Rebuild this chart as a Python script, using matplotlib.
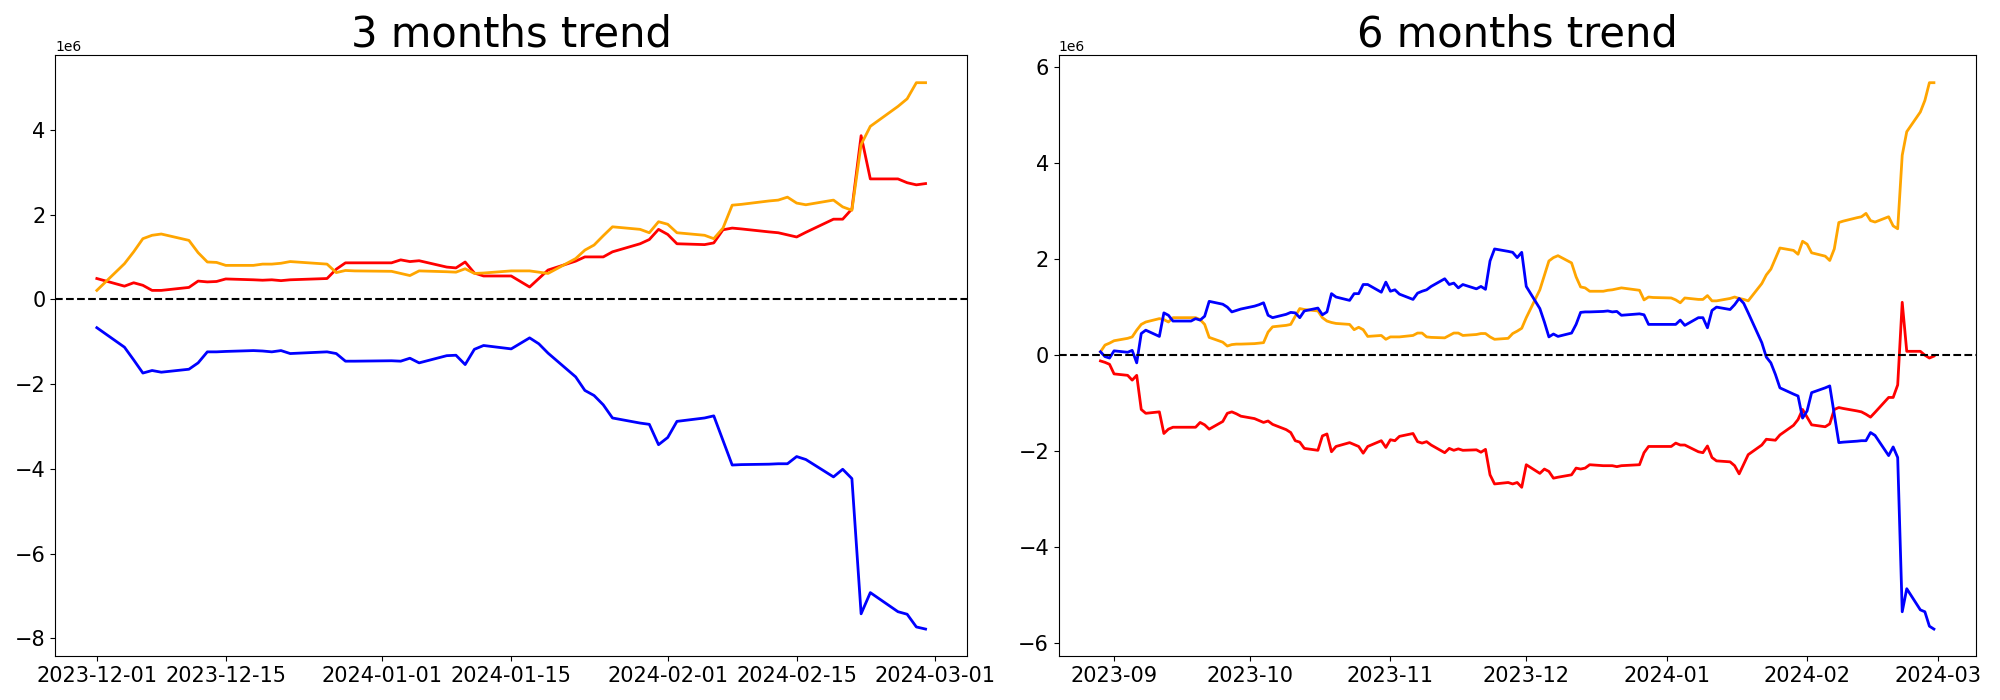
import matplotlib
matplotlib.use('Agg')
import matplotlib.pyplot as plt
import numpy as np
import pandas as pd

holidays = pd.to_datetime(['2023-12-25', '2024-01-01'])

# 3 months: business days 2023-12-01 .. 2024-02-29 (values in millions)
dates_3m = pd.bdate_range('2023-12-01', '2024-02-29').drop(holidays)

red_3m = [0.49, 0.31, 0.39, 0.33, 0.21, 0.21, 0.28, 0.43, 0.41, 0.42,
          0.48, 0.46, 0.45, 0.46, 0.44, 0.46, 0.49, 0.71, 0.86, 0.86,
          0.86, 0.93, 0.89, 0.91, 0.76, 0.74, 0.88, 0.62, 0.55, 0.55,
          0.42, 0.29, 0.49, 0.69, 0.90, 1.00, 1.00, 1.00, 1.12, 1.31,
          1.41, 1.65,
          1.53, 1.31, 1.29, 1.33, 1.64, 1.68, 1.66, 1.59, 1.57, 1.52,
          1.47, 1.58, 1.89, 1.89, 2.13, 3.86, 2.84, 2.84, 2.75, 2.70, 2.73]

orange_3m = [0.21, 0.84, 1.12, 1.43, 1.51, 1.54, 1.39, 1.10, 0.88, 0.87,
             0.80, 0.80, 0.83, 0.83, 0.85, 0.89, 0.83, 0.63, 0.68, 0.67,
             0.66, 0.61, 0.56, 0.67, 0.65, 0.64, 0.72, 0.61, 0.62, 0.67,
             0.67, 0.67, 0.64, 0.61, 0.96, 1.16, 1.28, 1.50, 1.71, 1.65,
             1.57, 1.83,
             1.77, 1.57, 1.51, 1.43, 1.68, 2.22, 2.24, 2.32, 2.34, 2.41,
             2.27, 2.23, 2.34, 2.18, 2.10, 3.65, 4.08, 4.55, 4.73, 5.11, 5.11]

blue_3m = [-0.67, -1.13, -1.43, -1.74, -1.68, -1.72, -1.65, -1.50, -1.24, -1.24,
           -1.23, -1.21, -1.22, -1.24, -1.21, -1.28, -1.24, -1.28, -1.46, -1.46,
           -1.45, -1.46, -1.39, -1.50, -1.33, -1.32, -1.54, -1.18, -1.09, -1.17,
           -1.04, -0.91, -1.05, -1.27, -1.83, -2.15, -2.27, -2.49, -2.80, -2.92,
           -2.95, -3.43,
           -3.26, -2.88, -2.80, -2.75, -3.33, -3.91, -3.90, -3.89, -3.88, -3.88,
           -3.71, -3.78, -4.19, -4.01, -4.23, -7.42, -6.92, -7.37, -7.43, -7.73, -7.78]

# 6 months: business days 2023-08-29 .. 2024-02-29
dates_6m = pd.bdate_range('2023-08-29', '2024-02-29').drop(holidays)

blue_6m = [0.07, -0.03, -0.06, 0.09,
           0.06, 0.10, -0.16, 0.45, 0.52,
           0.39, 0.88, 0.83, 0.71, 0.71,
           0.71, 0.76, 0.73, 0.81, 1.12,
           1.06, 1.00, 0.90, 0.93, 0.96,
           1.02, 1.05, 1.09, 0.83, 0.78,
           0.85, 0.89, 0.88, 0.78, 0.92,
           0.98, 0.84, 0.90, 1.28, 1.21,
           1.14, 1.28, 1.28, 1.47, 1.47,
           1.31, 1.52, 1.33, 1.36, 1.27,
           1.16, 1.29, 1.33, 1.36, 1.43,
           1.59, 1.47, 1.50, 1.40, 1.47,
           1.38, 1.43, 1.37, 1.96, 2.21,
           2.16, 2.14, 2.03, 2.14, 1.43,
           0.97, 0.69, 0.38, 0.44, 0.39,
           0.46, 0.64, 0.89, 0.90, 0.90,
           0.91, 0.92, 0.90, 0.91, 0.83,
           0.86, 0.84, 0.64, 0.64,
           0.64, 0.64, 0.73, 0.62,
           0.78, 0.78, 0.57, 0.93, 1.00,
           0.95, 1.05, 1.18, 1.08, 0.88,
           0.26, -0.04, -0.16, -0.40, -0.68,
           -0.81, -0.85, -1.31, -1.16, -0.78,
           -0.68, -0.64, -1.23, -1.82, -1.81,
           -1.79, -1.78, -1.78, -1.61, -1.67,
           -2.09, -1.91, -2.13, -5.34, -4.86,
           -5.30, -5.34, -5.64, -5.70]

orange_6m = [0.07, 0.21, 0.25, 0.30,
             0.35, 0.38, 0.52, 0.64, 0.69,
             0.76, 0.74, 0.69, 0.78, 0.78,
             0.78, 0.78, 0.74, 0.64, 0.37,
             0.27, 0.19, 0.22, 0.23, 0.23,
             0.24, 0.25, 0.26, 0.48, 0.59,
             0.62, 0.64, 0.81, 0.97, 0.95,
             0.92, 0.78, 0.71, 0.68, 0.66,
             0.64, 0.53, 0.58, 0.53, 0.39,
             0.41, 0.33, 0.38, 0.38, 0.38,
             0.41, 0.46, 0.46, 0.38, 0.37,
             0.36, 0.41, 0.46, 0.46, 0.41,
             0.43, 0.45, 0.45, 0.38, 0.33,
             0.35, 0.45, 0.50, 0.56, 0.78,
             1.36, 1.66, 1.96, 2.03, 2.07,
             1.92, 1.63, 1.42, 1.40, 1.33,
             1.33, 1.35, 1.36, 1.38, 1.40,
             1.35, 1.15, 1.21, 1.20,
             1.19, 1.15, 1.09, 1.19,
             1.16, 1.16, 1.24, 1.13, 1.13,
             1.18, 1.21, 1.18, 1.16, 1.13,
             1.49, 1.67, 1.79, 2.01, 2.23,
             2.18, 2.10, 2.37, 2.31, 2.13,
             2.06, 1.97, 2.21, 2.76, 2.79,
             2.86, 2.88, 2.95, 2.80, 2.77,
             2.88, 2.69, 2.63, 4.16, 4.65,
             5.06, 5.30, 5.67, 5.67]

red_6m = [-0.12, -0.15, -0.19, -0.39,
          -0.42, -0.52, -0.42, -1.13, -1.21,
          -1.18, -1.63, -1.54, -1.50, -1.50,
          -1.50, -1.50, -1.40, -1.45, -1.54,
          -1.38, -1.21, -1.18, -1.22, -1.27,
          -1.32, -1.36, -1.40, -1.37, -1.44,
          -1.55, -1.61, -1.78, -1.81, -1.94,
          -1.98, -1.68, -1.64, -2.01, -1.90,
          -1.82, -1.86, -1.90, -2.04, -1.90,
          -1.78, -1.92, -1.76, -1.78, -1.69,
          -1.63, -1.80, -1.83, -1.80, -1.87,
          -2.03, -1.94, -1.98, -1.95, -1.98,
          -1.97, -2.02, -1.96, -2.49, -2.68,
          -2.65, -2.68, -2.65, -2.75, -2.28,
          -2.46, -2.37, -2.42, -2.56, -2.54,
          -2.49, -2.35, -2.37, -2.35, -2.28,
          -2.30, -2.30, -2.30, -2.32, -2.30,
          -2.28, -2.03, -1.90, -1.90,
          -1.90, -1.83, -1.87, -1.87,
          -2.01, -2.03, -1.89, -2.13, -2.20,
          -2.22, -2.30, -2.47, -2.27, -2.07,
          -1.87, -1.75, -1.76, -1.77, -1.66,
          -1.46, -1.34, -1.13, -1.29, -1.45,
          -1.49, -1.43, -1.13, -1.09, -1.11,
          -1.16, -1.18, -1.23, -1.29, -1.19,
          -0.88, -0.88, -0.62, 1.10, 0.08,
          0.08, 0.00, -0.06, -0.02]


def draw(ax, dates, red, orange, blue, title):
    scale = 1e6
    ax.plot(dates, np.array(red) * scale, color='red', lw=2)
    ax.plot(dates, np.array(orange) * scale, color='orange', lw=2)
    ax.plot(dates, np.array(blue) * scale, color='blue', lw=2)
    ax.axhline(0, color='black', linestyle='--', lw=1.5)
    ax.set_title(title, fontsize=30)
    ax.tick_params(labelsize=15)


fig = plt.figure(figsize=(20, 7), dpi=100)
ax1 = fig.add_axes([0.0277, 0.0623, 0.4558, 0.8586])
ax2 = fig.add_axes([0.5294, 0.0623, 0.4584, 0.8586])

draw(ax1, dates_3m, red_3m, orange_3m, blue_3m, '3 months trend')
draw(ax2, dates_6m, red_6m, orange_6m, blue_6m, '6 months trend')

fig.savefig('out.png', dpi=100)
